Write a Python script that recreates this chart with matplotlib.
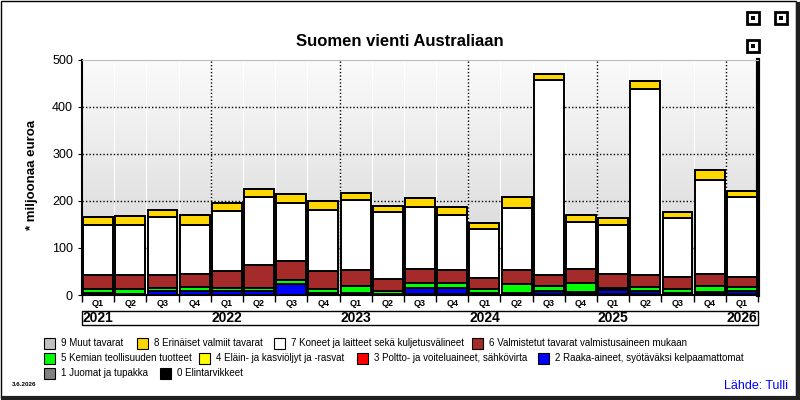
import numpy as np
import matplotlib
matplotlib.use('Agg')
import matplotlib.pyplot as plt
from matplotlib.patches import Rectangle
from matplotlib.colors import LinearSegmentedColormap
import matplotlib.transforms as mtrans

plt.rcParams['font.family'] = ['Liberation Sans', 'DejaVu Sans']

# --- Datos (milj. euroa), vuosineljänneksittäin 2021Q1 .. 2026Q1 ---
quarters = ['Q1', 'Q2', 'Q3', 'Q4'] * 5 + ['Q1']
years = ['2021', '2022', '2023', '2024', '2025', '2026']

s0_elintarvikkeet = [2, 3, 1, 1, 1, 1, 1, 4, 4, 3, 2, 2, 4, 4, 2, 4, 2, 2, 4, 2, 2]
s1_juomat = [0] * 21
s2_raaka = [3, 0, 7, 7, 7, 7, 22, 0, 0, 0, 13, 13, 0, 0, 7, 3, 9, 7, 0, 4, 7]
s3_poltto = [0] * 21
s4_elain = [0] * 21
s5_kemian = [7, 9, 6, 9, 6, 6, 9, 8, 15, 5, 10, 10, 8, 19, 10, 18, 3, 8, 8, 13, 7]
s6_valmistetut = [31, 31, 29, 28, 38, 50, 41, 40, 35, 27, 30, 28, 24, 31, 23, 30, 31, 25, 26, 26, 22]
s7_koneet = [107, 107, 122, 105, 126, 145, 123, 129, 148, 141, 132, 117, 104, 132, 416, 100, 103, 396, 125, 199, 170]
s8_erinaiset = [15, 18, 15, 21, 18, 17, 19, 18, 14, 13, 19, 17, 13, 23, 13, 16, 15, 17, 13, 21, 14]
s9_muut = [0] * 21

sarjat = [s0_elintarvikkeet, s1_juomat, s2_raaka, s3_poltto, s4_elain,
          s5_kemian, s6_valmistetut, s7_koneet, s8_erinaiset, s9_muut]
nimet = ['0 Elintarvikkeet', '1 Juomat ja tupakka',
         '2 Raaka-aineet, syötäväksi kelpaamattomat',
         '3 Poltto- ja voiteluaineet, sähkövirta',
         '4 Eläin- ja kasviöljyt ja -rasvat',
         '5 Kemian teollisuuden tuotteet',
         '6 Valmistetut tavarat valmistusaineen mukaan',
         '7 Koneet ja laitteet sekä kuljetusvälineet',
         '8 Erinäiset valmiit tavarat', '9 Muut tavarat']
varit = ['#000000', '#808080', '#0000ff', '#ff0000', '#ffff00',
         '#00ff00', '#a52a2a', '#ffffff', '#ffd700', '#c0c0c0']

fig = plt.figure(figsize=(8, 4), dpi=100)

# Kehys kuvan ympärille
fig.patches.append(Rectangle((0.001, 0.004), 0.994, 0.994, transform=fig.transFigure,
                             fill=False, edgecolor='black', lw=1))
fig.add_artist(plt.Line2D([0.004, 0.997], [0.004, 0.004], transform=fig.transFigure,
                          color='#202020', lw=3))
fig.add_artist(plt.Line2D([0.997, 0.997], [0.004, 0.99], transform=fig.transFigure,
                          color='#202020', lw=3))

ax = fig.add_axes([82 / 800, 105 / 400, 676 / 800, 235 / 400])

# Taustan liukuväri
cmap = LinearSegmentedColormap.from_list('bg', ['#d2d2d2', '#fbfbfb'])
grad = np.linspace(0, 1, 256)[:, None]
ax.imshow(grad, extent=[-0.5, 20.5, 0, 500], aspect='auto', cmap=cmap,
          origin='lower', zorder=0)

x = np.arange(len(quarters))
for b in np.arange(-0.5, 21, 1):
    ax.axvline(b, color='white', lw=0.8, zorder=1)
for yv in [100, 200, 300, 400]:
    ax.axhline(yv, color='black', lw=1, ls=(0, (1, 1.5)), zorder=1)
for b in [3.5, 7.5, 11.5, 15.5, 19.5]:
    ax.axvline(b, color='black', lw=1, ls=(0, (1, 1.5)), zorder=1)

# Pinotut pylväät
pohja = np.zeros(len(quarters))
for arvot, vari in zip(sarjat, varit):
    arvot = np.array(arvot)
    ax.bar(x, arvot, bottom=pohja, width=0.93, color=vari, edgecolor='black',
           linewidth=1.4, zorder=3)
    pohja += arvot

ax.set_xlim(-0.5, 20.5)
ax.set_ylim(0, 500)
ax.set_yticks([0, 100, 200, 300, 400, 500])
ax.tick_params(axis='y', labelsize=9, length=3)
ax.set_xticks(x)
ax.set_xticklabels(quarters, fontsize=6.5, fontweight='bold')
ax.tick_params(axis='x', length=0, pad=3)
ax.set_xticks(np.arange(-0.5, 21, 1), minor=True)
ax.tick_params(axis='x', which='minor', length=5, width=1)

for s in ['left', 'bottom']:
    ax.spines[s].set_linewidth(1.5)
ax.spines['right'].set_linewidth(3)
ax.spines['top'].set_color('#bdbdbd')

# Vuosilaatikko
tr = mtrans.blended_transform_factory(ax.transData, ax.transAxes)
ax.add_patch(Rectangle((-0.5, -0.128), 21, 0.06, transform=tr, fill=False,
                       edgecolor='black', lw=1, clip_on=False))
for i, v in enumerate(years):
    ax.text(i * 4, -0.098, v, transform=tr, ha='center', va='center',
            fontsize=10, fontweight='bold')

fig.text(0.5, 1 - 42 / 400, 'Suomen vienti Australiaan', ha='center', va='center',
         fontsize=12, fontweight='bold')
fig.text(32 / 800, 1 - 175 / 400, '* miljoonaa euroa', rotation=90, ha='center',
         va='center', fontsize=9.5, fontweight='bold')

# Selite (sijainti pikseleinä, sarjan indeksi)
paikat = [(44, 343, 9), (137, 343, 8), (274, 343, 7), (472, 343, 6),
          (44, 358, 5), (199, 358, 4), (357, 358, 3), (538, 358, 2),
          (44, 373, 1), (160, 373, 0)]
for px, py, idx in paikat:
    fig.patches.append(Rectangle((px / 800, 1 - (py + 5.5) / 400), 11 / 800, 11 / 400,
                                 transform=fig.transFigure, facecolor=varit[idx],
                                 edgecolor='black', lw=0.8))
    fig.text((px + 17) / 800, 1 - py / 400, nimet[idx], fontsize=7,
             va='center', ha='left')

fig.text(12 / 800, 1 - 384 / 400, '3.6.2026', fontsize=4.5, fontweight='bold', va='center')
fig.text(788 / 800, 1 - 386 / 400, 'Lähde: Tulli', fontsize=9, color='#0000ff',
         ha='right', va='center')

# QR-koodin tapainen merkki oikeassa yläkulmassa
qx, qy = 747 / 800, 1 - 52 / 400
for dx, dy in [(0, 28), (28, 28), (0, 0)]:
    fig.patches.append(Rectangle((qx + dx / 800, qy + dy / 400), 12 / 800, 12 / 400,
                                 transform=fig.transFigure, facecolor='white',
                                 edgecolor='black', lw=2))
    fig.patches.append(Rectangle((qx + (dx + 4) / 800, qy + (dy + 4) / 400), 4 / 800, 4 / 400,
                                 transform=fig.transFigure, facecolor='black', lw=0))

fig.savefig('out.png', dpi=100)
